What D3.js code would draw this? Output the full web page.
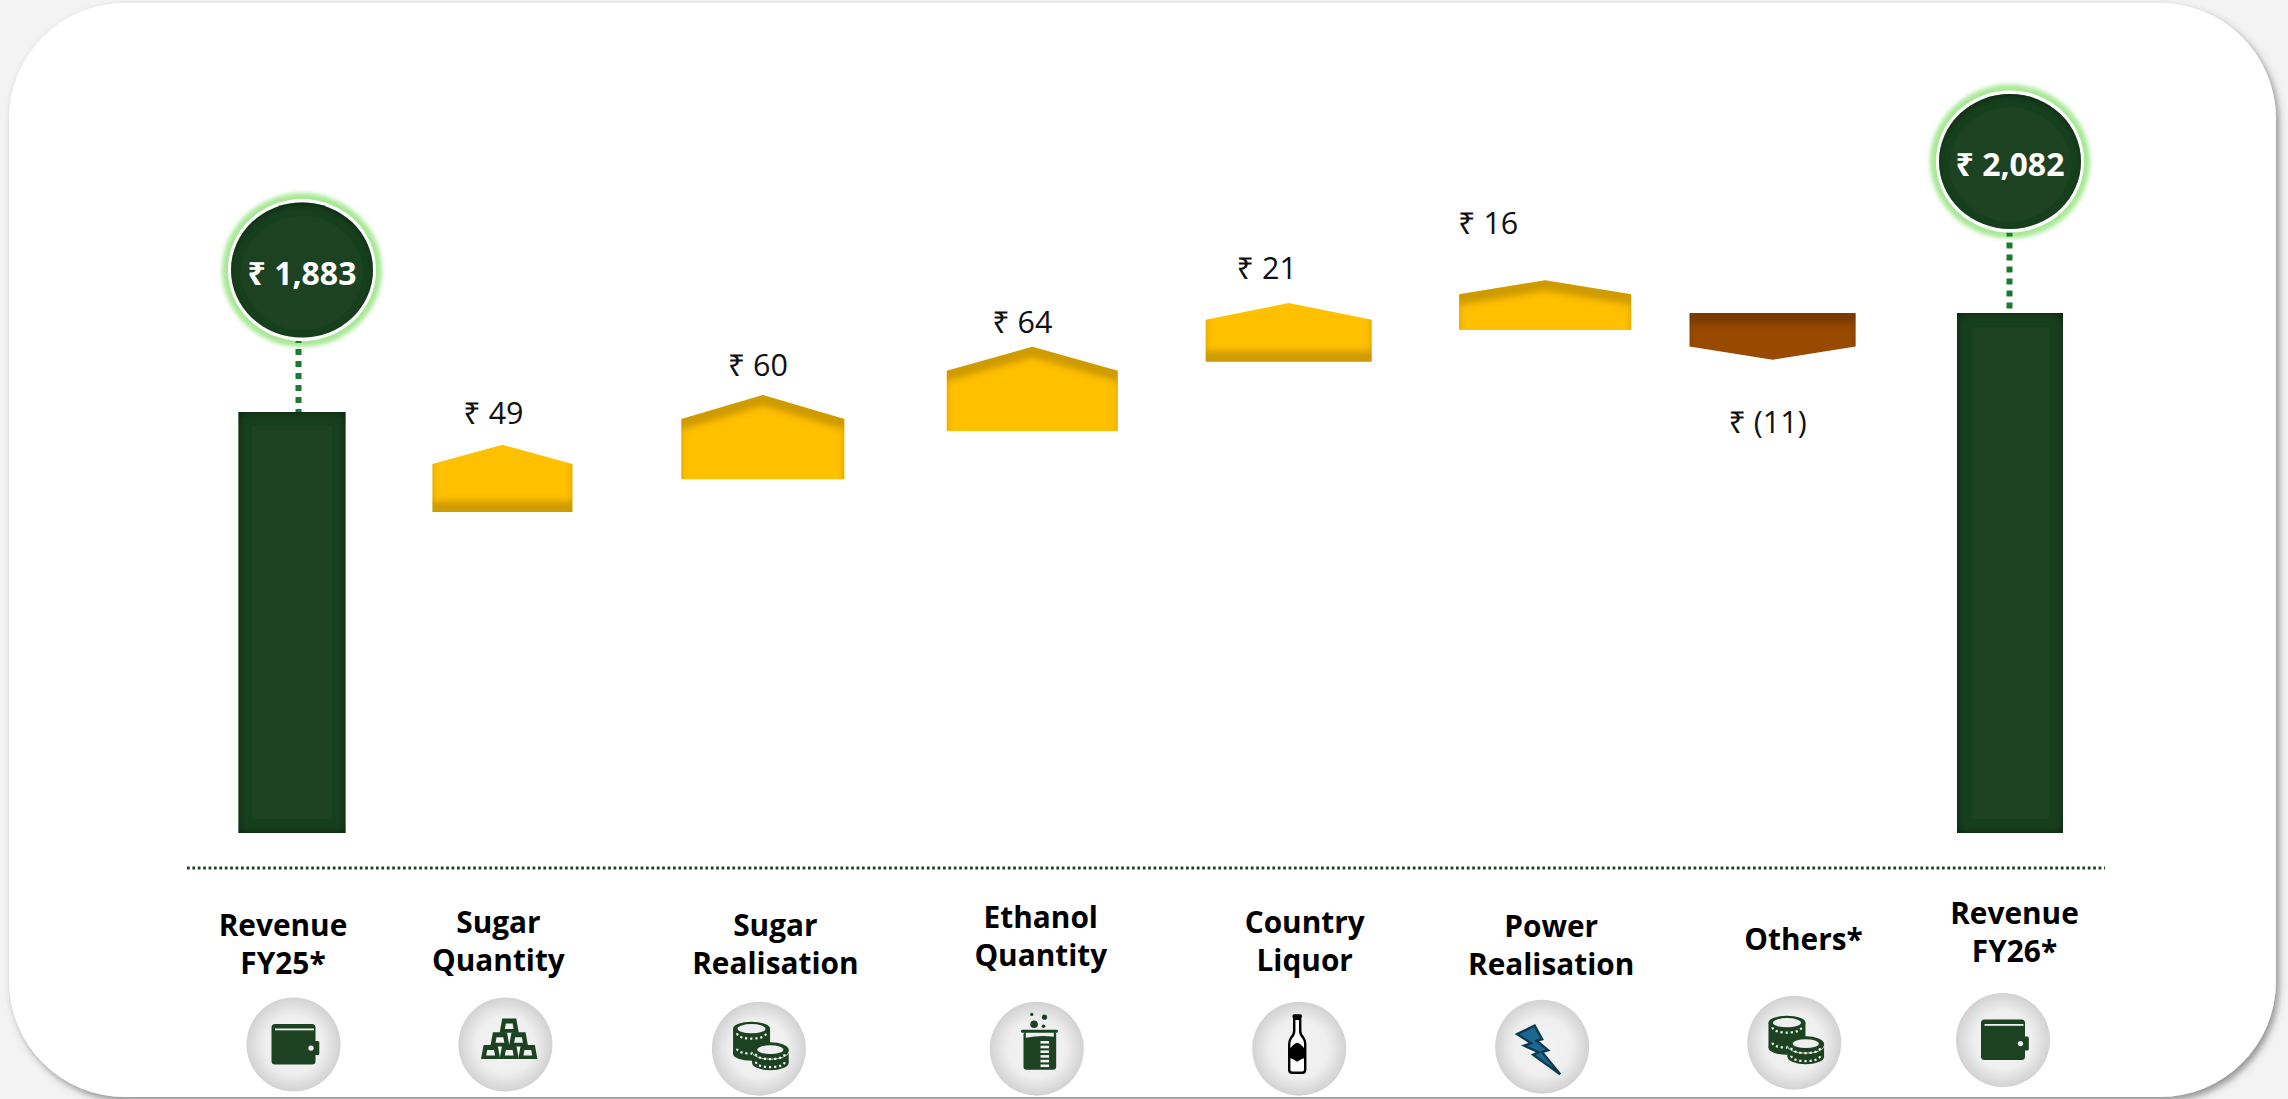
<!DOCTYPE html>
<html>
<head>
<meta charset="utf-8">
<title>Revenue bridge FY25 to FY26</title>
<script src="https://cdn.jsdelivr.net/npm/d3@7"></script>
<style>
  html, body { margin: 0; padding: 0; background: #f3f3f3; overflow: hidden; }
  svg { display: block; }
  text { font-family: "Open Sans", "Noto Sans", sans-serif; }
</style>
</head>
<body>
<svg id="chart" width="2288" height="1099"></svg>
<script>
// chart values
const categories = ["Revenue FY25*", "Sugar Quantity", "Sugar Realisation", "Ethanol Quantity",
  "Country Liquor", "Power Realisation", "Others*", "Revenue FY26*"];
const categoryLines = [["Revenue", "FY25*"], ["Sugar", "Quantity"], ["Sugar", "Realisation"], ["Ethanol", "Quantity"],
  ["Country", "Liquor"], ["Power", "Realisation"], ["Others*"], ["Revenue", "FY26*"]];
const values = [1883, 49, 60, 64, 21, 16, -11, 2082];
const kinds = ["total", "step", "step", "step", "step", "step", "step", "total"];
// the steps are not drawn to scale in the picture, so these are where they sit on the chart's own scale
const plotStart = [null, 1682, 1748, 1845, 1984, 2048, 2082, null];
const plotEnd = [null, 1817, 1917, 2014, 2102, 2148, 1988, null];
const icons = ["wallet", "bars", "coins", "beaker", "bottle", "bolt", "coins", "wallet"];

// layout
const columnShift = [0, -35, -20, 4, 15, 26, 8, 0];
const markWidth = [107, 140, 163, 171, 166, 172, 166, 106];
const shadeSide = [0, 1, -1, -1, 1, -1, -1, 0]; // 1 = dark band at the bottom, -1 = at the top
const valueDx = [0, -9, -5, -10, -22, -57, -5, 0];
const valueDy = [0, -21, -19, -14, -24, -46, 73, 0];
const bubbleDx = [10, 0, 0, 0, 0, 0, 0, 0];
const bubbleDy = [-142, 0, 0, 0, 0, 0, 0, -151.5];
const connectorDx = [6.5, 0, 0, 0, 0, 0, 0, -0.5];
const connectorPhase = [4, 0, 0, 0, 0, 0, 0, 2];
const connectorGap = [0, 0, 0, 0, 0, 0, 0, 3];
const labelDx = [-9, -4, 12.5, 8.5, 16, 6, 31, 4.5];
const labelY = [936, 933, 936, 928, 933, 937, 950, 924];
const iconDx = [1.5, 3, -4, 4.5, 10.5, -3, 21.7, -7];
const iconY = [1044.5, 1044.5, 1048.7, 1048.7, 1048.7, 1046.7, 1042.7, 1040];

const green = "#1c4222";
const amber = "#ffc000";
const brown = "#984b00";
const rupee = "\u20b9";

const x = d3.scalePoint().domain(categories).range([292, 2010]);
const y = d3.scaleLinear().domain([1037, 2082]).range([833, 313]);
const commas = d3.format(",");

const centre = (i) => x(categories[i]) + columnShift[i];
const valueText = (v) => (v < 0 ? `${rupee} (${-v})` : `${rupee} ${commas(v)}`);

const svg = d3.select("#chart");
const defs = svg.append("defs");

function insetFilter(id, dy, blur, opacity) {
  const f = defs.append("filter").attr("id", id)
    .attr("x", "-30%").attr("y", "-30%").attr("width", "160%").attr("height", "160%");
  f.append("feFlood").attr("flood-color", "#000").attr("flood-opacity", opacity).attr("result", "flood");
  f.append("feComposite").attr("in", "flood").attr("in2", "SourceAlpha").attr("operator", "out").attr("result", "outside");
  f.append("feGaussianBlur").attr("in", "outside").attr("stdDeviation", blur).attr("result", "soft");
  f.append("feOffset").attr("in", "soft").attr("dx", 0).attr("dy", dy).attr("result", "moved");
  f.append("feComposite").attr("in", "moved").attr("in2", "SourceAlpha").attr("operator", "in").attr("result", "inner");
  const merge = f.append("feMerge");
  merge.append("feMergeNode").attr("in", "SourceGraphic");
  merge.append("feMergeNode").attr("in", "inner");
}
insetFilter("inset-top", 11, 3.4, 0.38);
insetFilter("inset-bottom", -11, 3.4, 0.38);
insetFilter("inset-bar", 0, 6, 0.8);
insetFilter("inset-bubble", 3, 4, 0.6);

defs.append("filter").attr("id", "glow")
  .attr("x", "-20%").attr("y", "-20%").attr("width", "140%").attr("height", "140%")
  .append("feGaussianBlur").attr("stdDeviation", 2);

const cardShadow = defs.append("filter").attr("id", "card-shadow")
  .attr("x", "-2%").attr("y", "-2%").attr("width", "104%").attr("height", "104%");
cardShadow.append("feDropShadow").attr("dx", 3).attr("dy", 4).attr("stdDeviation", 3.5)
  .attr("flood-color", "#444").attr("flood-opacity", 0.55);

const disc = defs.append("radialGradient").attr("id", "disc");
disc.append("stop").attr("offset", "0%").attr("stop-color", "#f3f3f3");
disc.append("stop").attr("offset", "62%").attr("stop-color", "#efefef");
disc.append("stop").attr("offset", "100%").attr("stop-color", "#d2d2d2");

// background card
svg.append("rect").attr("width", 2288).attr("height", 1099).attr("fill", "#f3f3f3");
svg.append("rect")
  .attr("x", 9).attr("y", 3).attr("width", 2267).attr("height", 1094)
  .attr("rx", 116).attr("ry", 116)
  .attr("fill", "#fff")
  .attr("filter", "url(#card-shadow)");

// totals
const totals = d3.range(values.length).filter((i) => kinds[i] === "total");

svg.append("g").selectAll("rect")
  .data(totals)
  .join("rect")
  .attr("x", (i) => centre(i) - markWidth[i] / 2)
  .attr("y", (i) => y(values[i]))
  .attr("width", (i) => markWidth[i])
  .attr("height", (i) => y.range()[0] - y(values[i]))
  .attr("fill", green)
  .attr("filter", "url(#inset-bar)");

const bubbles = svg.append("g").selectAll("g")
  .data(totals)
  .join("g")
  .attr("transform", (i) => `translate(${centre(i) + bubbleDx[i]},${y(values[i]) + bubbleDy[i]})`);

bubbles.append("ellipse").attr("rx", 80).attr("ry", 77).attr("fill", "#a8e896").attr("filter", "url(#glow)");

// connector from the total bar up to its bubble, it runs over the glow
svg.append("g").selectAll("line")
  .data(totals)
  .join("line")
  .attr("x1", (i) => centre(i) + connectorDx[i])
  .attr("x2", (i) => centre(i) + connectorDx[i])
  .attr("y1", (i) => y(values[i]) + bubbleDy[i] + 71)
  .attr("y2", (i) => y(values[i]) - connectorGap[i])
  .attr("stroke", "#1a7a2e")
  .attr("stroke-width", 6)
  .attr("stroke-dasharray", "6 6")
  .attr("stroke-dashoffset", (i) => connectorPhase[i]);

const bubbleFaces = svg.append("g").selectAll("g")
  .data(totals)
  .join("g")
  .attr("transform", (i) => `translate(${centre(i) + bubbleDx[i]},${y(values[i]) + bubbleDy[i]})`);

bubbleFaces.append("ellipse").attr("rx", 74).attr("ry", 71).attr("fill", "#fff");
bubbleFaces.append("ellipse").attr("rx", 71).attr("ry", 67.5).attr("fill", green).attr("filter", "url(#inset-bubble)");
bubbleFaces.append("text")
  .attr("y", 14.5)
  .attr("text-anchor", "middle")
  .attr("font-size", 32)
  .attr("font-weight", 700)
  .attr("fill", "#fff")
  .text((i) => valueText(values[i]));

// steps, drawn as block arrows from plotStart towards plotEnd
const steps = d3.range(values.length).filter((i) => kinds[i] === "step");

function arrowPath(i) {
  const c = centre(i);
  const half = markWidth[i] / 2;
  const y0 = y(plotStart[i]);
  const y1 = y(plotEnd[i]);
  const shoulder = y1 + (y0 - y1) * 0.285;
  return d3.line()([
    [c - half, y0], [c + half, y0], [c + half, shoulder], [c, y1], [c - half, shoulder]
  ]) + "Z";
}

svg.append("g").selectAll("path")
  .data(steps)
  .join("path")
  .attr("d", arrowPath)
  .attr("fill", (i) => (values[i] < 0 ? brown : amber))
  .attr("filter", (i) => (shadeSide[i] > 0 ? "url(#inset-bottom)" : "url(#inset-top)"));

svg.append("g").selectAll("text")
  .data(steps)
  .join("text")
  .attr("x", (i) => centre(i) + valueDx[i])
  .attr("y", (i) => y(plotEnd[i]) + valueDy[i])
  .attr("text-anchor", "middle")
  .attr("font-size", 30.5)
  .attr("fill", "#111")
  .text((i) => valueText(values[i]));

// dotted base line
svg.append("line")
  .attr("x1", 187).attr("x2", 2105)
  .attr("y1", 868).attr("y2", 868)
  .attr("stroke", green)
  .attr("stroke-width", 3)
  .attr("stroke-dasharray", "2.7 2.7");

// category names
svg.append("g").selectAll("text")
  .data(d3.range(categories.length))
  .join("text")
  .attr("text-anchor", "middle")
  .attr("font-size", 29.8)
  .attr("font-weight", 700)
  .attr("fill", "#000")
  .each(function (i) {
    d3.select(this).selectAll("tspan")
      .data(categoryLines[i])
      .join("tspan")
      .attr("x", centre(i) + labelDx[i])
      .attr("y", (d, k) => labelY[i] + k * 38)
      .text((d) => d);
  });

// icons, coordinates are relative to the disc centre
const discFill = "#efefef";

const drawIcon = {
  wallet(g) {
    g.append("rect").attr("x", -22).attr("y", -20.5).attr("width", 44).attr("height", 40.5).attr("rx", 3.5).attr("fill", green);
    g.append("rect").attr("x", 20).attr("y", -3.5).attr("width", 5.8).attr("height", 14).attr("rx", 1.5).attr("fill", green);
    g.append("rect").attr("x", -18.5).attr("y", -16).attr("width", 39).attr("height", 1.8).attr("fill", discFill);
    g.append("circle").attr("cx", 17.5).attr("cy", 3.6).attr("r", 2.7).attr("fill", discFill);
  },
  bars(g) {
    const slots = [[3.8, -26], [-5.5, -12.3], [13.1, -12.3], [-14.8, 0.4], [3.8, 0.4], [22.4, 0.4]];
    g.selectAll("path")
      .data(slots)
      .join("path")
      .attr("fill", green)
      .attr("fill-rule", "evenodd")
      .attr("d", ([cx, top]) => {
        const outer = [[cx - 7, top], [cx + 7, top], [cx + 9.6, top + 14.2], [cx - 9.6, top + 14.2]];
        const inner = [[cx - 3.4, top + 5], [cx + 3.4, top + 5], [cx + 4.4, top + 10.6], [cx - 4.4, top + 10.6]];
        return d3.line()(outer) + "Z" + d3.line()(inner) + "Z";
      });
  },
  coins(g) {
    const stack = (cx, top, bottom, rx, ry, holeRx, holeRy) => {
      g.append("rect").attr("x", cx - rx).attr("y", top).attr("width", rx * 2).attr("height", bottom - top).attr("fill", green);
      g.append("ellipse").attr("cx", cx).attr("cy", top).attr("rx", rx).attr("ry", ry).attr("fill", green);
      g.append("ellipse").attr("cx", cx).attr("cy", bottom).attr("rx", rx).attr("ry", ry).attr("fill", green);
      g.append("ellipse").attr("cx", cx).attr("cy", top).attr("rx", holeRx).attr("ry", holeRy).attr("fill", discFill);
    };
    const dots = (cx, cy, rx, ry) => {
      g.append("path")
        .attr("d", `M${cx - rx},${cy} A${rx},${ry} 0 0 0 ${cx + rx},${cy}`)
        .attr("fill", "none").attr("stroke", discFill).attr("stroke-width", 2.2).attr("stroke-dasharray", "2.2 2.8");
    };
    stack(-7.3, -20, 5, 18.5, 7, 14, 4.6);
    dots(-7.3, -15.5, 14.5, 5.5);
    dots(-7.3, 0, 14.5, 5);
    stack(11.5, 1, 14, 18.3, 7.5, 13, 4.4);
    g.append("path")
      .attr("d", "M-7,3 A18.5,7.5 0 0 0 30,3")
      .attr("fill", "none").attr("stroke", discFill).attr("stroke-width", 0.8);
    dots(11.5, 5, 14.5, 5.5);
    dots(11.5, 13, 14.5, 5.5);
  },
  beaker(g) {
    [[-5, -34.3, 1.6], [7.7, -31.5, 2.6], [-2.7, -24.5, 3.8], [6.7, -22.5, 1.8]].forEach(([cx, cy, r]) => {
      g.append("circle").attr("cx", cx).attr("cy", cy).attr("r", r).attr("fill", green);
    });
    g.append("rect").attr("x", -15.7).attr("y", -19).attr("width", 36.7).attr("height", 3).attr("rx", 1).attr("fill", green);
    g.append("rect").attr("x", -13.3).attr("y", -17).attr("width", 32.7).attr("height", 38).attr("rx", 3).attr("fill", green);
    g.append("path").attr("d", "M-11,-16 H17 V-12 Q4,-14 -11,-11 Z").attr("fill", discFill);
    d3.range(6).forEach((k) => {
      g.append("rect").attr("x", 3.7).attr("y", -7.7 + k * 4.7).attr("width", 8.6).attr("height", 2.6).attr("fill", discFill);
    });
  },
  bottle(g) {
    g.append("path")
      .attr("d", "M-5,-30 H1 V-18 Q1,-14 4,-11 Q6,-8 6,-5 V21 Q6,24 3,24 H-7 Q-10,24 -10,21 V-5 Q-10,-8 -8,-11 Q-5,-14 -5,-18 Z")
      .attr("fill", "#fff").attr("stroke", "#000").attr("stroke-width", 2.4).attr("stroke-linejoin", "round");
    g.append("rect").attr("x", -6.7).attr("y", -34.5).attr("width", 9.4).attr("height", 4).attr("rx", 1.5).attr("fill", "#000");
    g.append("path").attr("d", "M-2,-6 Q2,-5 6,1 V9 Q2,10 -2,13 Q-6,10 -10,9 V1 Q-6,-5 -2,-6 Z").attr("fill", "#000");
  },
  bolt(g) {
    const pts = [[-25, -12.5], [-7.5, -21], [0, -7.5], [-5.5, -6], [6, 3.5], [0, 5.5], [18, 27.5], [-9, 8], [-3.5, 5.5], [-18, -1], [-11, -3.5]];
    g.append("path")
      .attr("d", d3.line()(pts) + "Z")
      .attr("fill", "#1d6793")
      .attr("stroke", "#0c3a50")
      .attr("stroke-width", 2.4)
      .attr("stroke-linejoin", "miter");
  }
};

const discs = svg.append("g").selectAll("g")
  .data(d3.range(categories.length))
  .join("g")
  .attr("transform", (i) => `translate(${centre(i) + iconDx[i]},${iconY[i]})`);

discs.append("circle").attr("r", 47).attr("fill", "url(#disc)");
discs.each(function (i) {
  drawIcon[icons[i]](d3.select(this));
});
</script>
</body>
</html>
